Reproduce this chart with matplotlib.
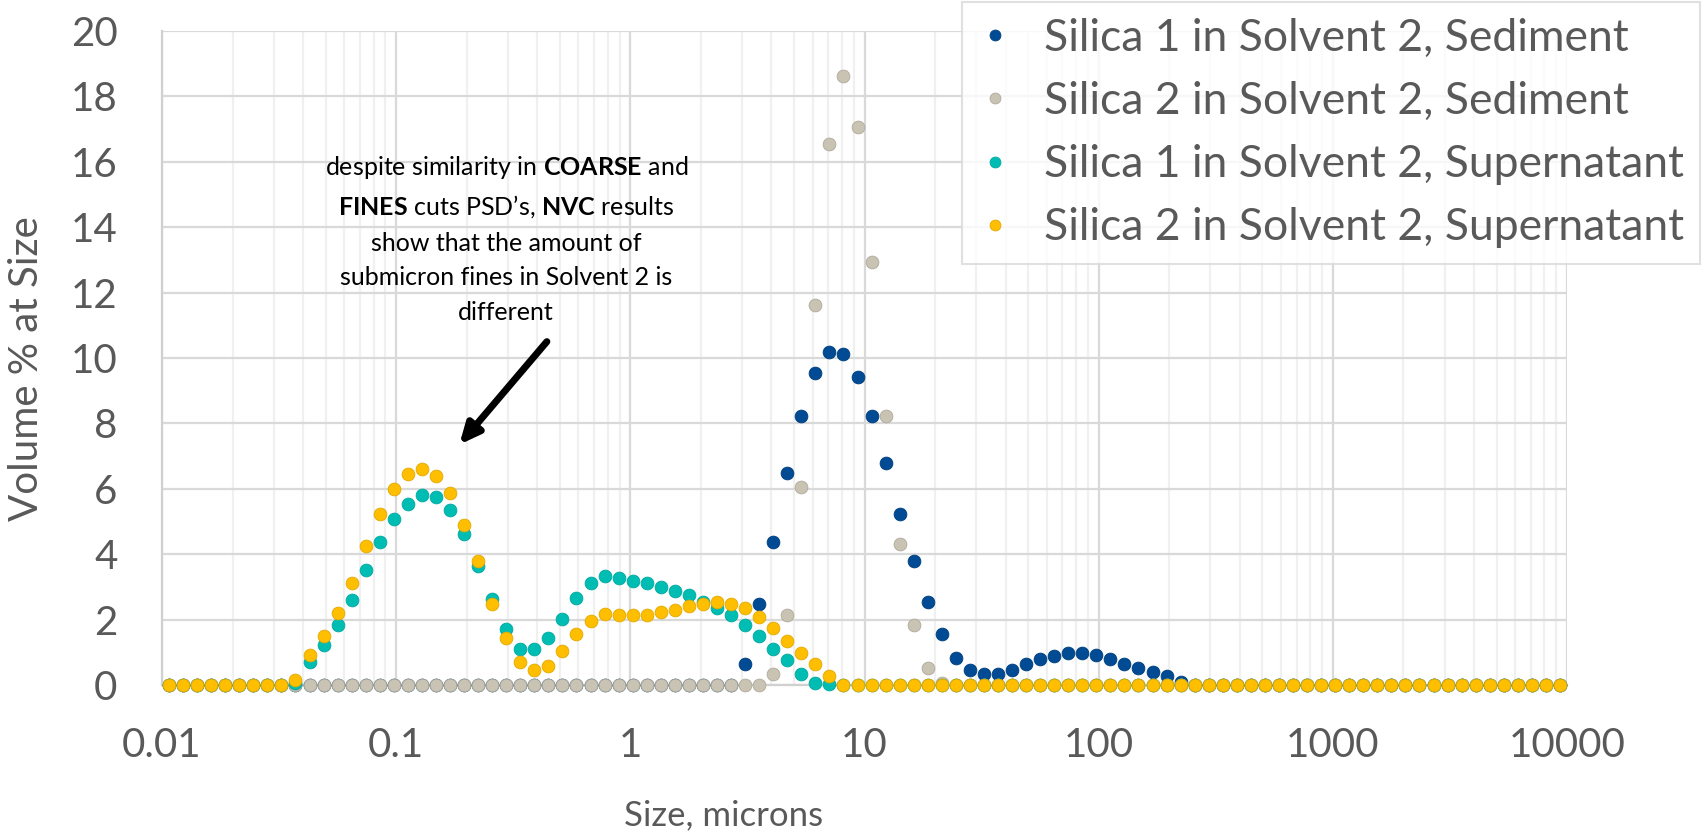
import matplotlib
matplotlib.use("Agg")
import matplotlib.pyplot as plt
from matplotlib.ticker import FixedLocator, LogLocator, NullFormatter, FixedFormatter

plt.rcParams['font.family'] = ['Lato', 'DejaVu Sans']
plt.rcParams['mathtext.fontset'] = 'custom'
plt.rcParams['mathtext.rm'] = 'Lato'
plt.rcParams['mathtext.bf'] = 'Lato:bold'

# size classes (microns)
sizes = [0.01072, 0.01230, 0.01413, 0.01622, 0.01862, 0.02138, 0.02455, 0.02818, 0.03236, 0.03715,
         0.04266, 0.04898, 0.05623, 0.06457, 0.07413, 0.08511, 0.09772, 0.1122, 0.1288, 0.1479,
         0.1698, 0.1950, 0.2239, 0.2570, 0.2951, 0.3388, 0.3890, 0.4467, 0.5129, 0.5888,
         0.6761, 0.7762, 0.8913, 1.023, 1.175, 1.349, 1.549, 1.778, 2.042, 2.344,
         2.692, 3.090, 3.548, 4.074, 4.677, 5.370, 6.166, 7.079, 8.128, 9.333,
         10.72, 12.30, 14.13, 16.22, 18.62, 21.38, 24.55, 28.18, 32.36, 37.15,
         42.66, 48.98, 56.23, 64.57, 74.13, 85.11, 97.72, 112.2, 128.8, 147.9,
         169.8, 195.0, 223.9, 257.0, 295.1, 338.8, 389.0, 446.7, 512.9, 588.8,
         676.1, 776.2, 891.3, 1023, 1175, 1349, 1549, 1778, 2042, 2344,
         2692, 3090, 3548, 4074, 4677, 5370, 6166, 7079, 8128, 9333]

silica1_sediment = [0] * 41 + [
    0.65, 2.47, 4.37, 6.47, 8.23, 9.53, 10.18, 10.13, 9.41, 8.23,
    6.78, 5.22, 3.78, 2.53, 1.55, 0.84, 0.45, 0.33, 0.33, 0.45,
    0.64, 0.78, 0.90, 0.97, 0.97, 0.91, 0.79, 0.64, 0.51, 0.39,
    0.26, 0.10] + [0] * 27

silica2_sediment = [0] * 43 + [
    0.33, 2.14, 6.06, 11.62, 16.54, 18.62, 17.06, 12.93, 8.23, 4.30,
    1.82, 0.51, 0.06] + [0] * 44

silica1_supernatant = [0] * 9 + [
    0.05, 0.70, 1.23, 1.82, 2.60, 3.52, 4.37, 5.08, 5.54, 5.80,
    5.74, 5.35, 4.62, 3.64, 2.62, 1.71, 1.10, 1.10, 1.43, 2.01,
    2.66, 3.12, 3.33, 3.26, 3.19, 3.12, 2.99, 2.86, 2.74, 2.53,
    2.34, 2.14, 1.83, 1.49, 1.11, 0.77, 0.33, 0.06, 0.02] + [0] * 52

silica2_supernatant = [0] * 9 + [
    0.15, 0.92, 1.50, 2.21, 3.13, 4.24, 5.23, 5.99, 6.46, 6.61,
    6.40, 5.87, 4.90, 3.80, 2.48, 1.43, 0.71, 0.46, 0.58, 1.05,
    1.56, 1.95, 2.16, 2.14, 2.14, 2.14, 2.23, 2.28, 2.41, 2.47,
    2.53, 2.47, 2.34, 2.07, 1.75, 1.36, 0.97, 0.64, 0.27] + [0] * 52

series = [
    ("Silica 1 in Solvent 2, Sediment", silica1_sediment, '#004B93', '#003F7D'),
    ("Silica 2 in Solvent 2, Sediment", silica2_sediment, '#C9C3B3', '#AFA99A'),
    ("Silica 1 in Solvent 2, Supernatant", silica1_supernatant, '#00BDB4', '#00A89F'),
    ("Silica 2 in Solvent 2, Supernatant", silica2_supernatant, '#FFBF00', '#E0A800'),
]

xticks = [0.01, 0.1, 1, 10, 100, 1000, 10000]
xtick_labels = ['0.01', '0.1', '1', '10', '100', '1000', '10000']
yticks = list(range(0, 21, 2))

fig = plt.figure(figsize=(17.02, 8.33), dpi=100)
ax = fig.add_axes([0.0952, 0.1777, 0.8255, 0.7851])

for label, vals, col, edge in series:
    ax.plot(sizes, vals, linestyle='none', marker='o', markersize=9.2,
            markerfacecolor=col, markeredgecolor=edge, markeredgewidth=0.6,
            label=label, clip_on=False, zorder=3)

ax.set_xscale('log')
ax.set_xlim(0.01, 10000)
ax.set_ylim(0, 20)
ax.xaxis.set_major_locator(FixedLocator(xticks))
ax.xaxis.set_major_formatter(FixedFormatter(xtick_labels))
ax.xaxis.set_minor_locator(LogLocator(base=10, subs=range(2, 10), numticks=100))
ax.xaxis.set_minor_formatter(NullFormatter())
ax.set_yticks(yticks)

ax.grid(which='major', color='#D9D9D9', linewidth=1.6)
ax.grid(which='minor', axis='x', color='#F0F0F0', linewidth=1.6)
ax.set_axisbelow(True)
for s in ['top', 'right']:
    ax.spines[s].set_visible(False)
ax.spines['left'].set_color('#D0D0D0')
ax.spines['bottom'].set_color('#D0D0D0')
ax.spines['left'].set_linewidth(1.6)
ax.spines['bottom'].set_linewidth(1.6)

ax.tick_params(axis='both', which='both', length=0, labelsize=29, labelcolor='#595959')
ax.tick_params(axis='x', pad=30)
ax.tick_params(axis='y', pad=32)

ax.set_xlabel('Size, microns', fontsize=25, color='#595959')
ax.xaxis.set_label_coords(0.4, -0.175)
ax.set_ylabel('Volume % at Size', fontsize=29, color='#595959')
ax.yaxis.set_label_coords(-0.083, 0.483)

ax.text(0.295, 16.25,
        "despite similarity in $\\bf{COARSE}$ and\n"
        "$\\bf{FINES}$ cuts PSD\u2019s, $\\bf{NVC}$ results\n"
        "show that the amount of\n"
        "submicron fines in Solvent 2 is\n"
        "different",
        ha='center', va='top', fontsize=18, color='black', linespacing=1.6)
ax.annotate('', xy=(0.186, 7.35), xytext=(0.44, 10.5),
            arrowprops=dict(arrowstyle='-|>,head_length=1.2,head_width=0.55',
                            color='black', lw=5, shrinkA=0, shrinkB=0))

leg = fig.legend(loc='upper right', bbox_to_anchor=(1.0, 1.0), fontsize=32,
                 frameon=True, fancybox=False, edgecolor='#D9D9D9',
                 labelcolor='#595959', markerscale=0.85, handlelength=0.8,
                 handletextpad=0.7, labelspacing=0.5, borderpad=0.35,
                 borderaxespad=0.05)
leg.get_frame().set_linewidth(1.5)

fig.savefig('out.png', dpi=100)
